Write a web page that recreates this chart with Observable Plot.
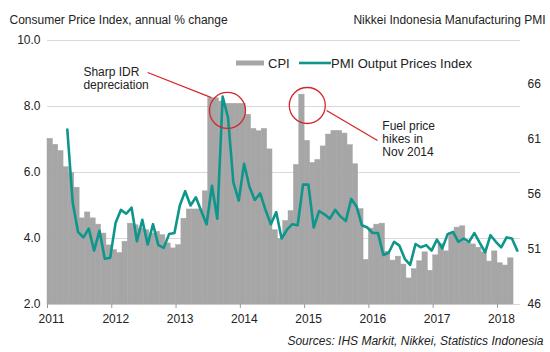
<!DOCTYPE html>
<html><head><meta charset="utf-8">
<script src="https://cdn.jsdelivr.net/npm/d3@7"></script>
<script src="https://cdn.jsdelivr.net/npm/@observablehq/plot@0.6"></script>
<style>
html,body{margin:0;padding:0;background:#fff;}
#chart{width:550px;height:352px;}
</style></head><body><div id="chart"></div>
<script>
// ---- data (monthly, index 0 = Jan 2011) ----
const yearLabels = ["2011","2012","2013","2014","2015","2016","2017","2018"];
const cpiTicks = [2, 4, 6, 8, 10];
const pmiTicks = [46, 51, 56, 61, 66];
const seriesNames = ["CPI", "PMI Output Prices Index"];
const titleLeft = "Consumer Price Index, annual % change";
const titleRight = "Nikkei Indonesia Manufacturing PMI";
const sourceText = "Sources: IHS Markit, Nikkei, Statistics Indonesia";

// CPI, annual % change, Jan 2011 - Mar 2018
const cpi = [
  7.02, 6.84, 6.65, 6.16, 5.98, 5.54, 4.61, 4.79, 4.61, 4.42, 4.15, 3.79,
  3.65, 3.56, 3.90, 4.45, 4.40, 4.30, 4.25, 4.15, 4.20, 4.10, 3.85, 3.70,
  3.80, 4.60, 4.88, 4.88, 4.88, 5.43, 8.25, 8.25, 8.15, 8.08, 8.08, 8.08,
  8.08, 7.75, 7.32, 7.25, 7.32, 6.70, 4.25, 3.99, 4.53, 4.83, 6.23, 8.36,
  6.96, 6.29, 6.38, 6.79, 7.15, 7.26, 7.26, 7.18, 6.83, 6.25, 4.89, 3.35,
  4.30, 4.42, 4.45, 3.60, 3.33, 3.45, 3.21, 2.79, 3.07, 3.31, 3.58, 3.02,
  3.49, 3.83, 3.61, 4.17, 4.33, 4.37, 3.88, 3.82, 3.72, 3.58, 3.30, 3.61,
  3.25, 3.18, 3.40
];

// PMI Output Prices Index, Apr 2011 - Apr 2018
const pmiStartMonth = 3;
const pmi = [
  61.9, 55.3, 52.6, 52.1, 52.9, 50.9, 52.7, 50.15, 50.25,
  53.4, 54.6, 54.25, 54.8, 51.75, 53.7, 51.45, 53.3, 51.4, 51.15, 52.4, 52.5,
  55.0, 56.3, 55.0, 55.75, 54.5, 53.3, 56.8, 53.8, 64.9, 63.0, 57.1, 55.45,
  58.8, 56.7, 55.5, 56.1, 54.6, 53.3, 54.4, 52.0, 52.8, 53.3, 53.2, 56.9,
  56.9, 53.0, 54.5, 54.2, 53.8, 54.6, 54.0, 53.6, 55.6, 54.9, 53.2, 53.0,
  52.5, 52.5, 50.5, 50.7, 51.7, 51.35, 50.15, 49.6, 51.5, 51.2, 51.4, 50.9,
  51.9, 51.1, 52.4, 52.6, 51.7, 52.0, 51.7, 52.5, 51.6, 50.75, 52.3, 51.7,
  51.2, 52.1, 52.0, 50.9
];

// annotations (in data units: month index, CPI value)
const annoCircles = [{m: 33.6, v: 7.88}, {m: 48.5, v: 8.03}];
const annoLinks = [
  {m1: 18.7, v1: 9.03, m2: 30.6, v2: 8.27},
  {m1: 52.1, v1: 7.88, m2: 61.6, v2: 6.97}
];
const annoTexts = [
  {m: 6.7, v: 9.22, text: "Sharp IDR\ndepreciation"},
  {m: 62.5, v: 7.58, text: "Fuel price\nhikes in\nNov 2014"}
];

// ---- build ----
const toCpi = p => 2 + (p - 46) / 3;     // right axis 46..70 mapped onto left 2..10
const fromCpi = c => 46 + (c - 2) * 3;
const cpiData = cpi.map((v, i) => ({m: i, v}));
const pmiData = pmi.map((v, k) => ({m: pmiStartMonth + k, v}));
const yearTicks = yearLabels.map((_, k) => k * 12);

const font = "'Liberation Sans', Arial, sans-serif";
const grey = "#a6a6a6", teal = "#0e968c", red = "#d7262b", ink = "#222";

const chart = Plot.plot({
  width: 550, height: 352,
  marginTop: 40, marginBottom: 48, marginLeft: 47, marginRight: 30,
  style: {fontFamily: font, fontSize: "12px", color: ink, background: "#fff"},
  x: {type: "linear", domain: [0, 88.3], axis: null},
  y: {domain: [2, 10], axis: null},
  marks: [
    Plot.gridY(cpiTicks, {stroke: "#d9d9d9", strokeOpacity: 1}),
    Plot.rect(cpiData, {x1: "m", x2: d => d.m + 1, y1: 2, y2: "v", fill: grey, stroke: grey, strokeWidth: 0.5}),
    Plot.line(pmiData, {x: d => d.m + 0.7, y: d => toCpi(d.v), stroke: teal, strokeWidth: 2.6}),
    Plot.axisY(cpiTicks, {anchor: "left", tickSize: 0, tickPadding: 7, tickFormat: d => d.toFixed(1), label: null, fill: ink}),
    Plot.axisY(pmiTicks.map(toCpi), {anchor: "right", tickSize: 0, tickPadding: 7, tickFormat: d => Math.round(fromCpi(d)), label: null, fill: ink}),
    Plot.axisX(yearTicks, {tickSize: 4, tickFormat: () => "", label: null, stroke: "#999"}),
    Plot.axisX(yearTicks, {tickSize: 0, tickPadding: 10, dx: 4, tickFormat: d => yearLabels[d / 12], label: null, fill: ink}),
    Plot.dot(annoCircles, {x: "m", y: "v", r: 18, stroke: red, strokeWidth: 1.3, fill: "none"}),
    Plot.link(annoLinks, {x1: "m1", y1: "v1", x2: "m2", y2: "v2", stroke: red, strokeWidth: 1.3}),
    Plot.text(annoTexts, {x: "m", y: "v", text: "text", textAnchor: "start", lineAnchor: "top", lineHeight: 1.11, fontSize: 12, fill: ink}),
    Plot.text([titleLeft], {text: d => d, frameAnchor: "top-left", dx: -38, dy: -20, textAnchor: "start", lineAnchor: "middle", fontSize: 12, fill: ink}),
    Plot.text([titleRight], {text: d => d, frameAnchor: "top-right", dx: 25, dy: -20, textAnchor: "end", lineAnchor: "middle", fontSize: 12, fill: ink}),
    Plot.text([sourceText], {text: d => d, frameAnchor: "bottom-right", dx: 23, dy: 37, textAnchor: "end", lineAnchor: "middle", fontSize: 12, fontStyle: "italic", fill: ink})
  ]
});

// legend
const svg = d3.select(chart);
const lg = svg.append("g").attr("font-family", font).attr("font-size", 13).attr("fill", ink).attr("text-anchor", "start");
lg.append("rect").attr("x", 236).attr("y", 60.5).attr("width", 28).attr("height", 5).attr("fill", grey);
lg.append("text").attr("x", 268).attr("y", 63).attr("dy", "0.35em").attr("text-anchor", "start").text(seriesNames[0]);
lg.append("line").attr("x1", 299).attr("x2", 331).attr("y1", 63).attr("y2", 63).attr("stroke", teal).attr("stroke-width", 2.6);
lg.append("text").attr("x", 331).attr("y", 63).attr("dy", "0.35em").attr("text-anchor", "start").text(seriesNames[1]);

document.getElementById("chart").appendChild(chart);
</script>
</body></html>
